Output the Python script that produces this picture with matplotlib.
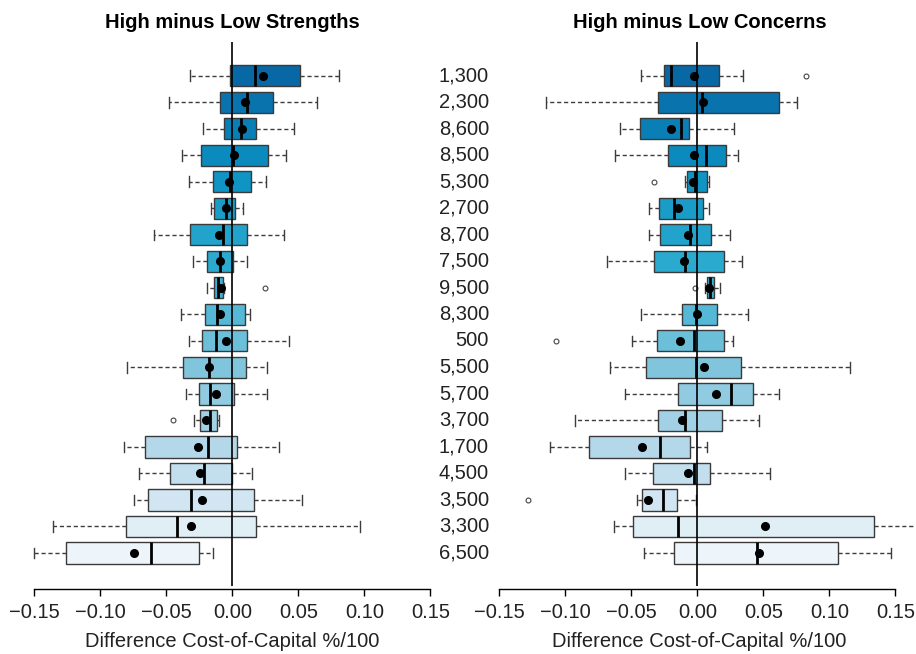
"""High minus Low Strengths / Concerns: horizontal boxplots of cost-of-capital differences."""

import matplotlib

matplotlib.use("Agg")
import matplotlib.pyplot as plt
from matplotlib.colors import LinearSegmentedColormap
from matplotlib.transforms import blended_transform_factory

LABELS = [
    "1,300", "2,300", "8,600", "8,500", "5,300", "2,700", "8,700", "7,500", "9,500",
    "8,300", "500", "5,500", "5,700", "3,700", "1,700", "4,500", "3,500", "3,300", "6,500",
]

# Strengths panel
STR_WHISLO = [-0.032, -0.048, -0.0225, -0.038, -0.0326, -0.016, -0.059, -0.0295, -0.019, -0.039,
              -0.033, -0.080, -0.035, -0.029, -0.082, -0.071, -0.0745, -0.1356, -0.150]
STR_Q1 = [-0.0015, -0.009, -0.0066, -0.0235, -0.0144, -0.0136, -0.032, -0.019, -0.014, -0.021,
          -0.0227, -0.0376, -0.0255, -0.0245, -0.0664, -0.047, -0.0636, -0.0808, -0.1263]
STR_MED = [0.0174, 0.0111, 0.0063, 0.0005, -0.0015, -0.0045, -0.0073, -0.0091, -0.0106, -0.0119,
           -0.0121, -0.0174, -0.0172, -0.0167, -0.0187, -0.0212, -0.0316, -0.0419, -0.0619]
STR_MEAN = [0.023, 0.0096, 0.0073, 0.001, -0.0025, -0.005, -0.0101, -0.0093, -0.0083, -0.0093,
            -0.0051, -0.0177, -0.0124, -0.0199, -0.0263, -0.0242, -0.0232, -0.0313, -0.0745]
STR_Q3 = [0.0515, 0.0311, 0.0177, 0.0268, 0.0139, 0.0018, 0.0114, 0.0008, -0.0073, 0.0096,
          0.0111, 0.0101, 0.001, -0.0114, 0.0033, -0.0005, 0.0167, 0.0182, -0.0255]
STR_WHISHI = [0.0808, 0.0644, 0.0467, 0.0407, 0.0258, 0.0081, 0.0391, 0.0109, -0.0065, 0.0131,
              0.0432, 0.0263, 0.0263, -0.0101, 0.0356, 0.0146, 0.0525, 0.0965, -0.0146]
STR_OUT = [[], [], [], [], [], [], [], [], [0.0247], [], [], [], [], [-0.0449], [], [], [], [], []]

# Concerns panel
CON_WHISLO = [-0.0424, -0.1149, -0.0588, -0.0626, -0.0096, -0.0369, -0.0364, -0.0684, 0.0056, -0.0424,
              -0.0495, -0.0659, -0.0548, -0.0929, -0.1116, -0.0548, -0.0457, -0.0634, -0.0402]
CON_Q1 = [-0.0255, -0.0301, -0.0437, -0.022, -0.0081, -0.029, -0.028, -0.0331, 0.0071, -0.0116,
          -0.0306, -0.0389, -0.0146, -0.0301, -0.0821, -0.0333, -0.0417, -0.0485, -0.0177]
CON_MED = [-0.0202, 0.0033, -0.0121, 0.0063, -0.002, -0.0179, -0.0053, -0.0093, 0.0098, -0.001,
           -0.0025, -0.0013, 0.0258, -0.0093, -0.0285, -0.0028, -0.0263, -0.0144, 0.0449]
CON_MEAN = [-0.0023, 0.004, -0.0199, -0.0023, -0.0033, -0.0144, -0.0073, -0.0104, 0.0086, 0.0,
            -0.0134, 0.0051, 0.0141, -0.0114, -0.0419, -0.0071, -0.0374, 0.051, 0.0467]
CON_Q3 = [0.0162, 0.0616, -0.0063, 0.0217, 0.0076, 0.0045, 0.0101, 0.0202, 0.0126, 0.0146,
          0.0202, 0.0333, 0.0419, 0.0187, -0.0058, 0.0096, -0.0152, 0.1338, 0.1063]
CON_WHISHI = [0.0346, 0.0758, 0.028, 0.0311, 0.0091, 0.0091, 0.025, 0.0336, 0.0169, 0.0386,
              0.0268, 0.1154, 0.0619, 0.0467, 0.0073, 0.0551, -0.0013, 0.175, 0.1467]
CON_OUT = [[0.0823], [], [], [], [-0.0326], [], [], [], [-0.0018], [], [-0.1073], [], [], [], [], [],
           [-0.1283], [], []]

XTICKS = [-0.15, -0.10, -0.05, 0.00, 0.05, 0.10, 0.15]

plt.rcParams.update({
    "font.family": ["Liberation Sans", "DejaVu Sans"],
    "font.size": 14,
})

W, H = 916, 654
n = len(LABELS)
positions = list(range(1, n + 1))

cmap = LinearSegmentedColormap.from_list(
    "ramp", ["#0867a5", "#0c92c2", "#2cabd0", "#7dc4dc", "#badaeb", "#eef5fa"]
)
colors = [cmap(i / (n - 1)) for i in range(n)]


def make_stats(whislo, q1, med, mean, q3, whishi, out):
    return [
        {"whislo": a, "q1": b, "med": c, "mean": d, "q3": e, "whishi": f, "fliers": g}
        for a, b, c, d, e, f, g in zip(whislo, q1, med, mean, q3, whishi, out)
    ]


def draw_panel(ax, stats, title, xlim):
    bp = ax.bxp(
        stats,
        positions=positions,
        widths=0.8,
        capwidths=0.4,
        orientation="horizontal",
        patch_artist=True,
        showmeans=True,
        showfliers=True,
        boxprops={"edgecolor": "#3a3a3a", "linewidth": 1.0},
        medianprops={"color": "black", "linewidth": 2.0},
        whiskerprops={"color": "#3c3c3c", "linewidth": 1.0, "linestyle": (0, (3, 2))},
        capprops={"color": "#3c3c3c", "linewidth": 1.0},
        meanprops={"marker": "o", "markerfacecolor": "black", "markeredgecolor": "black",
                   "markersize": 5.5},
        flierprops={"marker": "o", "markersize": 3.5, "markerfacecolor": "none",
                    "markeredgecolor": "#444444", "markeredgewidth": 0.8},
    )
    for patch, col in zip(bp["boxes"], colors):
        patch.set_facecolor(col)
    for m in bp["means"]:
        m.set_zorder(5)

    ax.axvline(0, color="black", linewidth=1.2, zorder=4)
    ax.set_xlim(*xlim)
    ax.set_ylim(n + 0.5 + 0.76, 0.5 - 0.76)

    for side in ["top", "right", "left"]:
        ax.spines[side].set_visible(False)
    ax.spines["bottom"].set_bounds(XTICKS[0], XTICKS[-1])
    ax.spines["bottom"].set_position(("outward", 2))
    ax.spines["bottom"].set_linewidth(1.0)
    ax.set_xticks(XTICKS, [f"{t:.2f}".replace("-", "\u2212") for t in XTICKS])
    ax.tick_params(axis="x", length=5, width=1.0, pad=5, labelsize=14.5, colors="#222222")
    ax.tick_params(axis="x", color="black")
    ax.set_xlabel("Difference Cost-of-Capital %/100", fontsize=14.5, labelpad=7,
                  color="#222222")
    ax.set_title(title, fontsize=14.5, fontweight="bold", pad=10)


fig = plt.figure(figsize=(W / 100, H / 100), dpi=100)

top, bottom = 42.3, 586.4
scale = 1320.0  # px per unit

# left panel
lx0 = -0.162
lx1 = 0.162
ax1 = fig.add_axes([(232.3 + lx0 * scale) / W, 1 - bottom / H,
                    (lx1 - lx0) * scale / W, (bottom - top) / H])
draw_panel(ax1, make_stats(STR_WHISLO, STR_Q1, STR_MED, STR_MEAN, STR_Q3, STR_WHISHI, STR_OUT),
           "High minus Low Strengths", (lx0, lx1))
ax1.set_yticks([])

# right panel
rx0 = -0.162
rx1 = 0.1655
ax2 = fig.add_axes([(697.3 + rx0 * scale) / W, 1 - bottom / H,
                    (rx1 - rx0) * scale / W, (bottom - top) / H])
draw_panel(ax2, make_stats(CON_WHISLO, CON_Q1, CON_MED, CON_MEAN, CON_Q3, CON_WHISHI, CON_OUT),
           "High minus Low Concerns", (rx0, rx1))
ax2.set_yticks([])

# row labels between the panels
trans = blended_transform_factory(fig.transFigure, ax2.transData)
for pos, lab in zip(positions, LABELS):
    fig.text(489 / W, pos, lab, transform=trans, ha="right", va="center", fontsize=14.5,
             color="#222222")

fig.savefig("out.png", dpi=100)
